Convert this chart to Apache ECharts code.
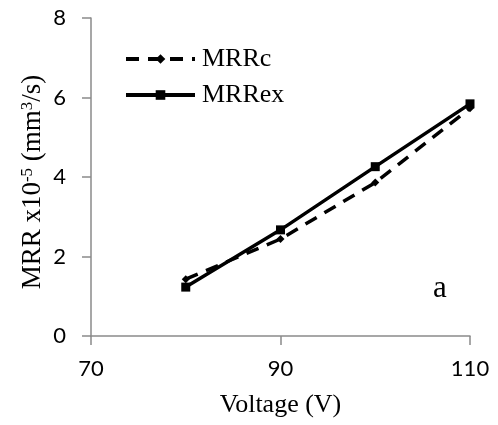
<!DOCTYPE html>
<html>
<head>
<meta charset="utf-8">
<script src="https://cdn.jsdelivr.net/npm/echarts@6/dist/echarts.min.js"></script>
<style>
  html, body { margin: 0; padding: 0; background: #fff; }
  #chart { width: 498px; height: 425px; }
</style>
</head>
<body>
<div id="chart"></div>
<script>
// Applied voltage (V)
const voltage = [80, 90, 100, 110];
// Calculated material removal rate, x10^-5 mm^3/s
const mrrCalc = [1.43, 2.44, 3.86, 5.73];
// Experimental material removal rate, x10^-5 mm^3/s
const mrrExp = [1.23, 2.67, 4.26, 5.84];

const xTicks = [70, 90, 110];
const yTicks = [0, 2, 4, 6, 8];

const serif = '"Liberation Serif", "Times New Roman", serif';
const sans = 'Lato, "Open Sans", sans-serif';
const axisGrey = '#8a8a8a';

const pairs = (xs, ys) => xs.map((x, i) => [x, ys[i]]);

const chart = echarts.init(document.getElementById('chart'), null, { renderer: 'canvas' });

chart.setOption({
  animation: false,
  backgroundColor: '#ffffff',
  grid: { left: 91, right: 28, top: 18, bottom: 89, containLabel: false },
  legend: {
    orient: 'vertical',
    left: 124,
    top: 46,
    padding: 0,
    itemWidth: 69,
    itemHeight: 12,
    itemGap: 10,
    lineStyle: { width: 4 },
    textStyle: { fontFamily: serif, fontSize: 26, color: '#000', padding: [0, 0, 0, 2] },
    data: ['MRRc', 'MRRex']
  },
  xAxis: {
    type: 'value',
    min: xTicks[0],
    max: xTicks[xTicks.length - 1],
    interval: xTicks[1] - xTicks[0],
    name: 'Voltage (V)',
    nameLocation: 'middle',
    nameGap: 56,
    nameTextStyle: { fontFamily: serif, fontSize: 26, color: '#000' },
    splitLine: { show: false },
    axisLine: { show: true, onZero: false, lineStyle: { color: axisGrey, width: 1.5 } },
    axisTick: { show: true, length: 9, lineStyle: { color: axisGrey, width: 1.5 } },
    axisLabel: { margin: 22, fontFamily: sans, fontSize: 22, color: '#000' }
  },
  yAxis: {
    type: 'value',
    min: yTicks[0],
    max: yTicks[yTicks.length - 1],
    interval: yTicks[1] - yTicks[0],
    splitLine: { show: false },
    axisLine: { show: true, lineStyle: { color: axisGrey, width: 1.5 } },
    axisTick: { show: true, length: 9, lineStyle: { color: axisGrey, width: 1.5 } },
    axisLabel: { margin: 25, fontFamily: sans, fontSize: 22, color: '#000' }
  },
  graphic: [
    {
      type: 'text',
      x: 33,
      y: 182,
      rotation: Math.PI / 2,
      style: {
        text: '{m|MRR x10}{s|-5}{m| (mm}{s|3}{m|/s)}',
        align: 'center',
        verticalAlign: 'middle',
        rich: {
          m: { fontFamily: serif, fontSize: 27, fill: '#000', verticalAlign: 'bottom' },
          s: { fontFamily: serif, fontSize: 17, fill: '#000', verticalAlign: 'top' }
        }
      }
    },
    {
      type: 'text',
      x: 440,
      y: 289,
      style: {
        text: 'a',
        fontFamily: serif,
        fontSize: 31,
        fill: '#000',
        align: 'center',
        verticalAlign: 'middle'
      }
    }
  ],
  series: [
    {
      name: 'MRRc',
      type: 'line',
      data: pairs(voltage, mrrCalc),
      symbol: 'diamond',
      symbolSize: 8,
      itemStyle: { color: '#000' },
      lineStyle: { color: '#000', width: 3.5, type: [13, 9] },
      z: 2
    },
    {
      name: 'MRRex',
      type: 'line',
      data: pairs(voltage, mrrExp),
      symbol: 'rect',
      symbolSize: 9,
      itemStyle: { color: '#000' },
      lineStyle: { color: '#000', width: 3.5 },
      z: 3
    }
  ]
});
</script>
</body>
</html>
